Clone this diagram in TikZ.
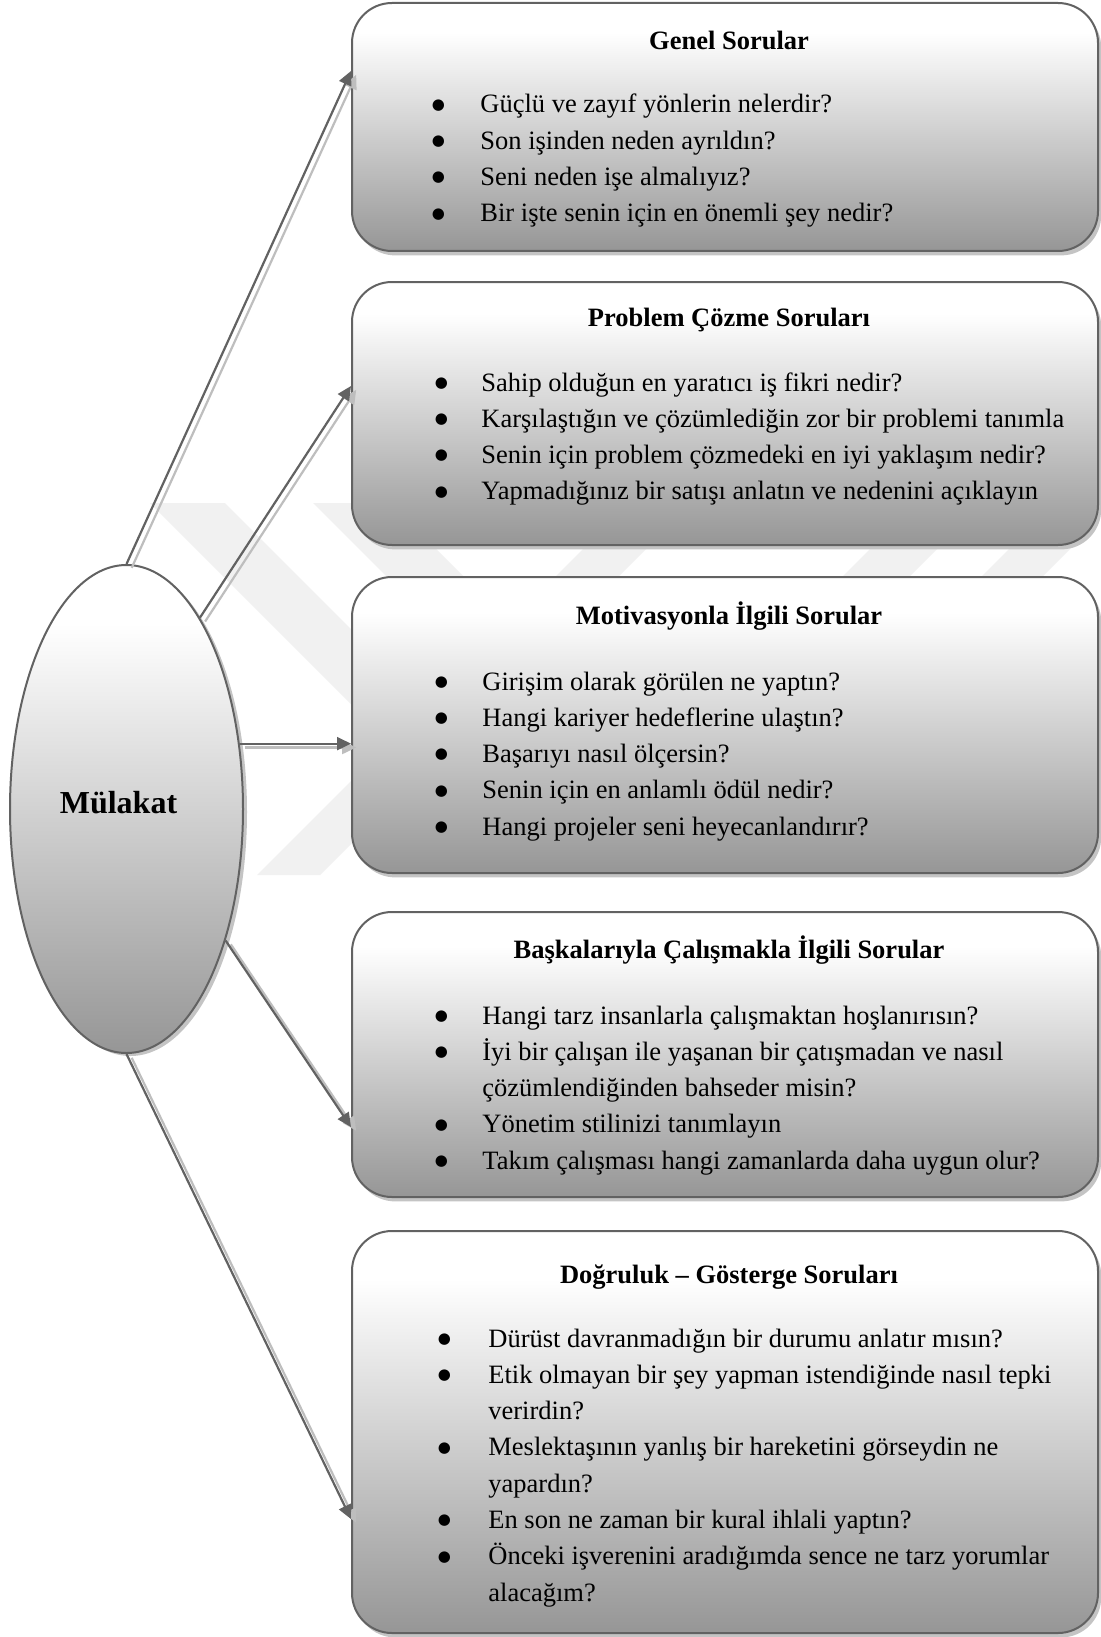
\documentclass[tikz,border=0pt]{standalone}
\usepackage{fontspec}
\setmainfont{Liberation Serif}
\newfontfamily\dotfont{DejaVu Sans}
\usetikzlibrary{shapes.geometric,shadows,arrows.meta,calc}
\definecolor{edgegray}{RGB}{98,98,98}
\definecolor{boxbot}{RGB}{150,150,150}
\definecolor{shadgray}{RGB}{196,196,196}
\definecolor{arrshad}{RGB}{190,190,190}
\definecolor{wmgray}{RGB}{241,241,241}
\pgfdeclareverticalshading{qshade}{100bp}{color(0bp)=(boxbot); color(25bp)=(boxbot); color(69bp)=(white); color(100bp)=(white)}
\newcommand\bdot{\raisebox{1.9pt}{\dotfont\fontsize{7.5pt}{9pt}\selectfont ●}}
\newcommand\bitem[1]{\makebox[20pt][c]{\bdot}\hspace*{#1}}
\newcommand\bcont[1]{\hspace*{\dimexpr20pt+#1\relax}}
\begin{document}
\begin{tikzpicture}[x=0.5pt,y=-0.5pt,
  qbox/.style={draw=edgegray, line width=1pt, rounded corners=20pt,
    shading=qshade, minimum width=373pt, inner sep=0pt,
    drop shadow={shadow xshift=1.6pt, shadow yshift=-2.2pt, opacity=1, fill=shadgray}},
  hub/.style={ellipse, draw=edgegray, line width=1pt, shading=qshade,
    minimum width=116.5pt, minimum height=244pt, inner sep=0pt,
    drop shadow={shadow xshift=2pt, shadow yshift=-1.5pt, opacity=1, fill=shadgray}},
  ttl/.style={font=\fontsize{13.25pt}{16pt}\selectfont\bfseries, anchor=base, inner sep=0pt},
  lst/.style={font=\fontsize{13.25pt}{18.15pt}\selectfont, anchor=base west, inner sep=0pt},
  conn/.style={draw=edgegray, line width=1.1pt, -{Triangle[length=7pt,width=6.5pt]}},
  connsh/.style={draw=arrshad, line width=1.1pt, -{Triangle[length=7pt,width=6.5pt]},
    transform canvas={shift={(2.6pt,-1.9pt)}}}
]
\useasboundingbox (0,0) rectangle (1100,1637);
\fill[white] (0,0) rectangle (1100,1637);
% faint watermark
\begin{scope}
  \clip (0,503) rectangle (1100,875);
  \fill[wmgray] (150,503) -- (225,503) -- (597,875) -- (522,875) -- cycle;
  \fill[wmgray] (313,503) -- (390,503) -- (762,875) -- (685,875) -- cycle;
  \fill[wmgray] (629,503) -- (692,503) -- (320,875) -- (257,875) -- cycle;
  \fill[wmgray] (916,503) -- (983,503) -- (611,875) -- (544,875) -- cycle;
  \fill[wmgray] (1055,503) -- (1116,503) -- (744,875) -- (683,875) -- cycle;
\end{scope}
% hub
\node[hub] (mul) at (126.5,809) {};
\node[font=\fontsize{16pt}{19pt}\selectfont\bfseries, anchor=base, inner sep=0pt] (mullbl) at (118.5,813) {Mülakat};
% boxes
\node[qbox, minimum height=124pt] (b1) at (725,127) {};
\node[qbox, minimum height=131.5pt] (b2) at (725,413.5) {};
\node[qbox, minimum height=148pt] (b3) at (725,725) {};
\node[qbox, minimum height=142.5pt] (b4) at (725,1054.5) {};
\node[qbox, minimum height=201pt] (b5) at (725,1432) {};
% connectors (shadow then line)
\draw[connsh] (mul.north) -- ($(b1.north west)+(0,69)$);
\draw[conn] (mul.north) -- ($(b1.north west)+(0,69)$);
\draw[connsh] (mul.69) -- ($(b2.north west)+(0,105)$);
\draw[conn] (mul.69) -- ($(b2.north west)+(0,105)$);
\draw[connsh] (mul.30) -- (mul.30 -| b3.west);
\draw[conn] (mul.30) -- (mul.30 -| b3.west);
\draw[connsh] (mul.-53) -- ($(b4.north west)+(0,216)$);
\draw[conn] (mul.-53) -- ($(b4.north west)+(0,216)$);
\draw[connsh] (mul.south) -- ($(b5.north west)+(0,289)$);
\draw[conn] (mul.south) -- ($(b5.north west)+(0,289)$);
% titles
\node[ttl] (h1) at (729,50) {Genel Sorular};
\node[ttl] (h2) at (729,326) {Problem Çözme Soruları};
\node[ttl] (h3) at (729,624) {Motivasyonla İlgili Sorular};
\node[ttl] (h4) at (729,958) {Başkalarıyla Çalışmakla İlgili Sorular};
\node[ttl] (h5) at (729,1283) {Doğruluk – Gösterge Soruları};
% lists
\node[lst] (l1) at (418,113) {\parbox[t]{340pt}{%
\bitem{11pt}Güçlü ve zayıf yönlerin nelerdir?\\
\bitem{11pt}Son işinden neden ayrıldın?\\
\bitem{11pt}Seni neden işe almalıyız?\\
\bitem{11pt}Bir işte senin için en önemli şey nedir?}};
\node[lst] (l2) at (421,391) {\parbox[t]{340pt}{%
\bitem{10pt}Sahip olduğun en yaratıcı iş fikri nedir?\\
\bitem{10pt}Karşılaştığın ve çözümlediğin zor bir problemi tanımla\\
\bitem{10pt}Senin için problem çözmedeki en iyi yaklaşım nedir?\\
\bitem{10pt}Yapmadığınız bir satışı anlatın ve nedenini açıklayın}};
\node[lst] (l3) at (421,690) {\parbox[t]{340pt}{%
\bitem{10.5pt}Girişim olarak görülen ne yaptın?\\
\bitem{10.5pt}Hangi kariyer hedeflerine ulaştın?\\
\bitem{10.5pt}Başarıyı nasıl ölçersin?\\
\bitem{10.5pt}Senin için en anlamlı ödül nedir?\\
\bitem{10.5pt}Hangi projeler seni heyecanlandırır?}};
\node[lst] (l4) at (421,1024) {\parbox[t]{340pt}{%
\bitem{10.5pt}Hangi tarz insanlarla çalışmaktan hoşlanırısın?\\
\bitem{10.5pt}İyi bir çalışan ile yaşanan bir çatışmadan ve nasıl\\
\bcont{10.5pt}çözümlendiğinden bahseder misin?\\
\bitem{10.5pt}Yönetim stilinizi tanımlayın\\
\bitem{10.5pt}Takım çalışması hangi zamanlarda daha uygun olur?}};
\node[lst] (l5) at (424,1347) {\parbox[t]{340pt}{%
\bitem{12pt}Dürüst davranmadığın bir durumu anlatır mısın?\\
\bitem{12pt}Etik olmayan bir şey yapman istendiğinde nasıl tepki\\
\bcont{12pt}verirdin?\\
\bitem{12pt}Meslektaşının yanlış bir hareketini görseydin ne\\
\bcont{12pt}yapardın?\\
\bitem{12pt}En son ne zaman bir kural ihlali yaptın?\\
\bitem{12pt}Önceki işverenini aradığımda sence ne tarz yorumlar\\
\bcont{12pt}alacağım?}};
\end{tikzpicture}
\end{document}
